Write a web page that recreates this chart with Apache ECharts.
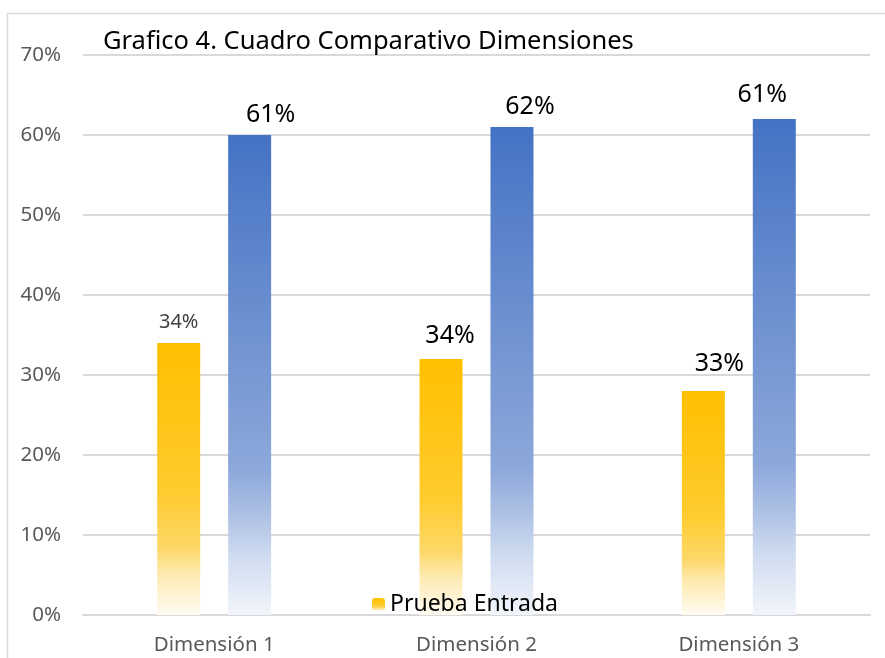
<!DOCTYPE html>
<html><head><meta charset="utf-8">
<script src="https://cdn.jsdelivr.net/npm/echarts@6/dist/echarts.min.js"></script>
<style>html,body{margin:0;padding:0;background:#fff}#c{width:885px;height:658px}</style>
</head><body><div id="c"></div>
<script>
const categories = ['Dimensión 1', 'Dimensión 2', 'Dimensión 3'];
const entradaValues = [34, 32, 28];
const entradaLabels = ['34%', '34%', '33%'];
const salidaValues = [60, 61, 62];
const salidaLabels = ['61%', '62%', '61%'];
const yTicks = [0, 10, 20, 30, 40, 50, 60, 70];

const entradaLabelStyle = [
  {fontSize: 20, color: '#404040', offset: [0, 0]},
  {fontSize: 25, color: '#000000', offset: [9, 0]},
  {fontSize: 25, color: '#000000', offset: [16, -4]}
];
const salidaLabelStyle = [
  {offset: [21, 0]},
  {offset: [18, 0]},
  {offset: [-12, -4]}
];
const FONT = '"Noto Sans", sans-serif';

const yellowGrad = new echarts.graphic.LinearGradient(0, 0, 0, 1, [
  {offset: 0, color: '#FFC000'},
  {offset: 0.55, color: '#FFCB2E'},
  {offset: 0.75, color: '#FDD867'},
  {offset: 0.85, color: '#FEEAB0'},
  {offset: 1, color: '#FFFBF2'}
]);
const blueGrad = new echarts.graphic.LinearGradient(0, 0, 0, 1, [
  {offset: 0, color: '#4472C4'},
  {offset: 0.7, color: '#8DA8DA'},
  {offset: 0.78, color: '#A9BDE3'},
  {offset: 0.88, color: '#D0DCF0'},
  {offset: 1, color: '#F2F5FB'}
]);

const chart = echarts.init(document.getElementById('c'), null, {renderer: 'canvas'});
chart.setOption({
  animation: false,
  backgroundColor: '#fff',
  graphic: [{
    type: 'rect', left: 5, top: 11, silent: true, z: -1,
    shape: {width: 900, height: 700},
    style: {fill: 'none', stroke: '#D9D9D9', lineWidth: 1.5}
  }],
  title: {
    text: 'Grafico 4. Cuadro Comparativo Dimensiones',
    left: 98, top: 24,
    textStyle: {fontFamily: FONT, fontSize: 25.5, fontWeight: 'normal', color: '#000'}
  },
  legend: {
    data: ['Prueba Entrada'],
    left: 372, top: 593, padding: 0,
    itemWidth: 13, itemHeight: 13, itemGap: 8,
    textStyle: {fontFamily: FONT, fontSize: 23, color: '#000'}
  },
  grid: {left: 83, right: 15, top: 55, bottom: 43, containLabel: false},
  xAxis: {
    type: 'category', data: categories,
    axisLine: {lineStyle: {color: '#D9D9D9', width: 2}},
    axisTick: {show: false},
    axisLabel: {fontFamily: FONT, fontSize: 20.5, color: '#595959', margin: 20}
  },
  yAxis: {
    type: 'value', min: 0, max: 70, interval: 10,
    axisLine: {show: false}, axisTick: {show: false},
    splitLine: {lineStyle: {color: '#D9D9D9', width: 2}},
    axisLabel: {fontFamily: FONT, fontSize: 20.5, color: '#595959', margin: 22, formatter: v => yTicks.includes(v) ? v + '%' : ''}
  },
  series: [{
    name: 'Prueba Entrada', type: 'bar', barWidth: 43, barGap: '65%',
    itemStyle: {color: yellowGrad},
    data: entradaValues.map((v, i) => ({
      value: v,
      label: {show: true, position: 'top', distance: 11, fontFamily: FONT,
        formatter: entradaLabels[i], fontSize: entradaLabelStyle[i].fontSize,
        color: entradaLabelStyle[i].color, offset: entradaLabelStyle[i].offset}
    }))
  }, {
    name: 'Prueba Salida', type: 'bar', barWidth: 43,
    itemStyle: {color: blueGrad},
    data: salidaValues.map((v, i) => ({
      value: v,
      label: {show: true, position: 'top', distance: 8, fontFamily: FONT,
        formatter: salidaLabels[i], fontSize: 25, color: '#000',
        offset: salidaLabelStyle[i].offset}
    }))
  }]
});
</script></body></html>
